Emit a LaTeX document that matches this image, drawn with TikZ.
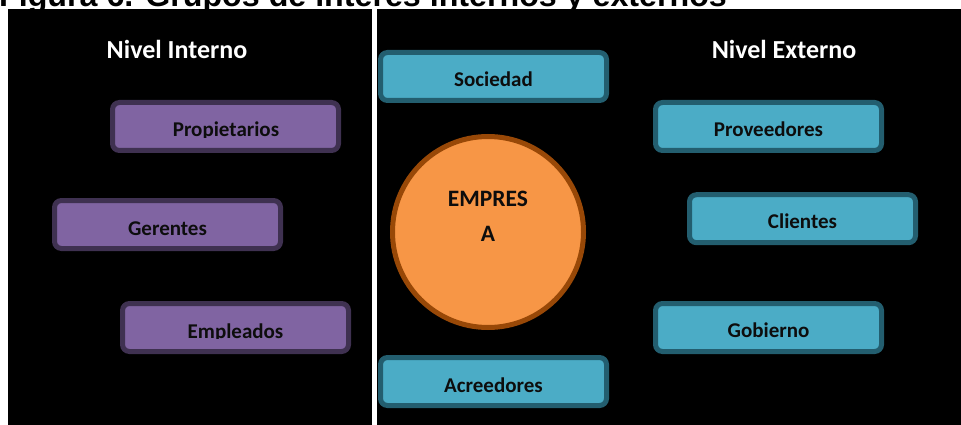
\documentclass[tikz,border=0pt]{standalone}
\usepackage{fontspec}
\setmainfont{Carlito}
\newfontfamily\titlefont{Liberation Sans}
\definecolor{panelbg}{HTML}{000000}
\definecolor{intfill}{HTML}{8064A2}
\definecolor{intedge}{HTML}{3F3151}
\definecolor{extfill}{HTML}{4BACC6}
\definecolor{extedge}{HTML}{235E6F}
\definecolor{corefill}{HTML}{F79646}
\definecolor{coreedge}{HTML}{984807}
\tikzset{
  groupbox/.style={rectangle, rounded corners=7pt, line width=5pt,
    minimum width=226pt, minimum height=48pt, inner sep=0pt},
  intbox/.style={groupbox, fill=intfill, draw=intedge},
  extbox/.style={groupbox, fill=extfill, draw=extedge},
  boxlabel/.style={anchor=base, inner sep=0pt, text=black!95,
    font=\fontsize{21}{25}\selectfont\bfseries},
  corelabel/.style={boxlabel, font=\fontsize{23.5}{27}\selectfont\bfseries},
  heading/.style={anchor=base, inner sep=0pt, text=white,
    font=\fontsize{26}{30}\selectfont\bfseries},
}
\begin{document}
\begin{tikzpicture}[x=1pt,y=-1pt]
  \useasboundingbox (0,0) rectangle (961,425);
  \clip (0,0) rectangle (961,425);
  % white page and the two black panels
  \fill[white] (0,0) rectangle (961,425);
  \fill[panelbg] (8,9) rectangle (372,425);
  \fill[panelbg] (377,9) rectangle (961,425);
  % caption, running off the top edge
  \node[anchor=base west, inner sep=0pt,
        font=\titlefont\fontsize{32.2}{36}\selectfont\bfseries]
    (caption) at (-1,6.8) {Figura 6. Grupos de interés internos y externos};

  % headings
  \node[heading] (hint) at (177,59) {Nivel Interno};
  \node[heading] (hext) at (784,59) {Nivel Externo};

  % internal stakeholders
  \node[intbox] (prop) at (225.5,126.5) {};
  \node[intbox] (ger)  at (167.5,224.5) {};
  \node[intbox] (emp)  at (235.5,327.5) {};
  \begin{scope}
    \clip (112,102) rectangle (339,137.6);
    \node[boxlabel] (propl) at (226,137) {Propietarios};
  \end{scope}
  \node[boxlabel] (gerl) at (167.5,235) {Gerentes};
  \begin{scope}
    \clip (122,303) rectangle (349,338.6);
    \node[boxlabel] (empl) at (235.5,338) {Empleados};
  \end{scope}

  % the company
  \node[circle, minimum size=191pt, line width=5pt, fill=corefill,
        draw=coreedge, inner sep=0pt] (core) at (488,232) {};
  \node[corelabel] (corel1) at (488,206) {EMPRES};
  \node[corelabel] (corel2) at (488,241) {A};

  % external stakeholders
  \node[extbox] (soc) at (493.5,76.5)  {};
  \node[extbox] (acr) at (493.5,381.5) {};
  \node[extbox] (prov) at (768.5,126.5) {};
  \node[extbox] (cli)  at (802.5,218.7) {};
  \node[extbox] (gob)  at (768.5,327.5) {};
  \node[boxlabel] (socl)  at (493.5,86.7)  {Sociedad};
  \node[boxlabel] (acrl)  at (493.5,392)   {Acreedores};
  \node[boxlabel] (provl) at (768.5,136.7) {Proveedores};
  \node[boxlabel] (clil)  at (802.5,228)   {Clientes};
  \node[boxlabel] (gobl)  at (768.5,337.7) {Gobierno};
\end{tikzpicture}
\end{document}
